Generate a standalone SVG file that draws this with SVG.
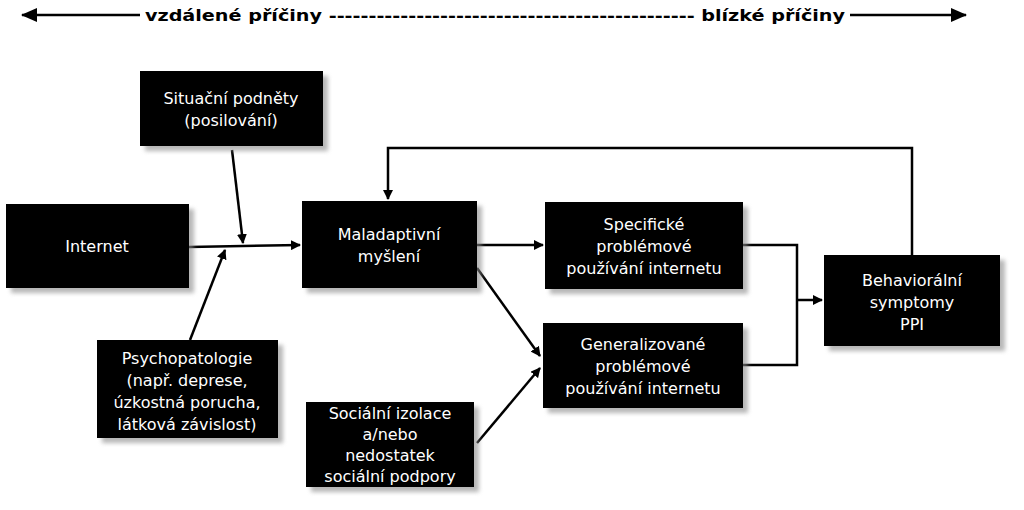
<svg xmlns="http://www.w3.org/2000/svg" width="1024" height="510" viewBox="0 0 1024 510">
<style>
.b{fill:#000}
.s{fill:#888;opacity:.6}
.t{fill:#fff;font-family:"DejaVu Sans",Verdana,sans-serif;font-size:16px;text-anchor:middle}
.h{fill:#000;font-family:"DejaVu Sans",Verdana,sans-serif;font-size:16px;font-weight:bold}
.c{stroke:#000;stroke-width:2.5;fill:none}
</style>
<defs>
<marker id="a" markerWidth="10" markerHeight="10" refX="9" refY="5" orient="auto" markerUnits="userSpaceOnUse" viewBox="0 0 10 10"><path d="M0,0L10,5L0,10z"/></marker>
<marker id="A" markerWidth="16" markerHeight="14" refX="15" refY="7" orient="auto" markerUnits="userSpaceOnUse" viewBox="0 0 16 14"><path d="M0,0L16,7L0,14z"/></marker>
<filter id="f" x="-10%" y="-10%" width="130%" height="130%"><feGaussianBlur stdDeviation="2"/></filter>
</defs>
<g id="header">
<line class="c" x1="140" y1="15" x2="22" y2="15" marker-end="url(#A)"/>
<line class="c" x1="850" y1="15" x2="966" y2="15" marker-end="url(#A)"/>
<text class="h" x="145" y="21" textLength="700" lengthAdjust="spacingAndGlyphs">vzdálené příčiny ---------------------------------------------- blízké příčiny</text>
</g>
<g id="connectors">
<line class="c" x1="189" y1="247" x2="300" y2="245" marker-end="url(#a)"/>
<line class="c" x1="232" y1="150" x2="243" y2="243" marker-end="url(#a)"/>
<line class="c" x1="190" y1="340" x2="225" y2="250" marker-end="url(#a)"/>
<line class="c" x1="477" y1="245" x2="543" y2="245" marker-end="url(#a)"/>
<line class="c" x1="477" y1="268" x2="540" y2="356" marker-end="url(#a)"/>
<line class="c" x1="477" y1="443" x2="540" y2="368" marker-end="url(#a)"/>
<polyline class="c" points="743,245 797,245 797,365 743,365"/>
<line class="c" x1="797" y1="300" x2="822" y2="300" marker-end="url(#a)"/>
<polyline class="c" points="912,255 912,148 388,148 388,199" marker-end="url(#a)"/>
</g>
<g id="n1"><rect class="s" filter="url(#f)" x="145" y="76" width="183" height="75"/><rect class="b" x="140" y="71" width="183" height="75"/><text class="t" x="231" y="104">Situační podněty</text><text class="t" x="231" y="126">(posilování)</text></g>
<g id="n2"><rect class="s" filter="url(#f)" x="11" y="209" width="183" height="84"/><rect class="b" x="6" y="204" width="183" height="84"/><text class="t" x="97" y="252">Internet</text></g>
<g id="n3"><rect class="s" filter="url(#f)" x="307" y="206" width="175" height="87"/><rect class="b" x="302" y="201" width="175" height="87"/><text class="t" x="389" y="240">Maladaptivní</text><text class="t" x="389" y="262">myšlení</text></g>
<g id="n4"><rect class="s" filter="url(#f)" x="550" y="207" width="198" height="87"/><rect class="b" x="545" y="202" width="198" height="87"/><text class="t" x="644" y="230">Specifické</text><text class="t" x="644" y="252">problémové</text><text class="t" x="644" y="274">používání internetu</text></g>
<g id="n5"><rect class="s" filter="url(#f)" x="548" y="328" width="200" height="85"/><rect class="b" x="543" y="323" width="200" height="85"/><text class="t" x="643" y="350">Generalizované</text><text class="t" x="643" y="372">problémové</text><text class="t" x="643" y="394">používání internetu</text></g>
<g id="n6"><rect class="s" filter="url(#f)" x="829" y="260" width="176" height="91"/><rect class="b" x="824" y="255" width="176" height="91"/><text class="t" x="912" y="286">Behaviorální</text><text class="t" x="912" y="308">symptomy</text><text class="t" x="912" y="330">PPI</text></g>
<g id="n7"><rect class="s" filter="url(#f)" x="102" y="345" width="181" height="98"/><rect class="b" x="97" y="340" width="181" height="98"/><text class="t" x="187" y="364">Psychopatologie</text><text class="t" x="187" y="386">(např. deprese,</text><text class="t" x="187" y="408">úzkostná porucha,</text><text class="t" x="187" y="430">látková závislost)</text></g>
<g id="n8"><rect class="s" filter="url(#f)" x="311" y="407" width="168" height="85"/><rect class="b" x="306" y="402" width="168" height="85"/><text class="t" x="390" y="419">Sociální izolace</text><text class="t" x="390" y="440">a/nebo</text><text class="t" x="390" y="461">nedostatek</text><text class="t" x="390" y="482">sociální podpory</text></g>
</svg>
